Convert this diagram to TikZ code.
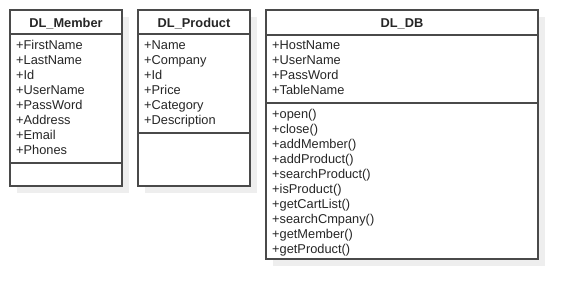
\documentclass[tikz,border=0pt]{standalone}
\usepackage{fontspec}
\setmainfont{Liberation Sans}
\definecolor{boxgray}{HTML}{4A4A4A}
\definecolor{shadowgray}{HTML}{EEEEEE}
\definecolor{txt}{HTML}{262626}
\begin{document}
\begin{tikzpicture}[x=1pt,y=-1pt,
  frame/.style={draw=boxgray, line width=1.4pt, fill=white},
  divider/.style={draw=boxgray, line width=1.4pt},
  shadowbox/.style={fill=shadowgray, draw=none},
  classtitle/.style={font=\fontsize{12.8}{15}\selectfont\bfseries, text=txt, anchor=base, inner sep=0pt},
  entry/.style={font=\fontsize{12.8}{15}\selectfont, text=txt, anchor=base west, inner sep=0pt}]
\useasboundingbox[fill=white] (0,0) rectangle (578,300);

% drop shadows
\fill[shadowbox] (17,17) rectangle (129,193);
\fill[shadowbox] (145,17) rectangle (257,193);
\fill[shadowbox] (273,17) rectangle (545,266);

% DL_Member
\draw[frame] (10,10) rectangle (122,186);
\draw[divider] (10,34) -- (122,34);
\draw[divider] (10,163) -- (122,163);
\node[classtitle] (memberTitle) at (66,27) {DL\_Member};
\foreach \t [count=\i] in {+FirstName,+LastName,+Id,+UserName,+PassWord,+Address,+Email,+Phones}
  \node[entry] (memberAttr\i) at (16,49.5+15*\i-15) {\t};

% DL_Product
\draw[frame] (138,10) rectangle (250,186);
\draw[divider] (138,34) -- (250,34);
\draw[divider] (138,133) -- (250,133);
\node[classtitle] (productTitle) at (194,27) {DL\_Product};
\foreach \t [count=\i] in {+Name,+Company,+Id,+Price,+Category,+Description}
  \node[entry] (productAttr\i) at (144,49.5+15*\i-15) {\t};

% DL_DB
\draw[frame] (266,10) rectangle (538,259);
\draw[divider] (266,35) -- (538,35);
\draw[divider] (266,103) -- (538,103);
\node[classtitle] (dbTitle) at (402,27) {DL\_DB};
\foreach \t [count=\i] in {+HostName,+UserName,+PassWord,+TableName}
  \node[entry] (dbAttr\i) at (272,49.5+15*\i-15) {\t};
\foreach \t [count=\i] in {+open(),+close(),+addMember(),+addProduct(),+searchProduct(),+isProduct(),+getCartList(),+searchCmpany(),+getMember(),+getProduct()}
  \node[entry] (dbOp\i) at (272,118+15*\i-15) {\t};
\end{tikzpicture}
\end{document}
